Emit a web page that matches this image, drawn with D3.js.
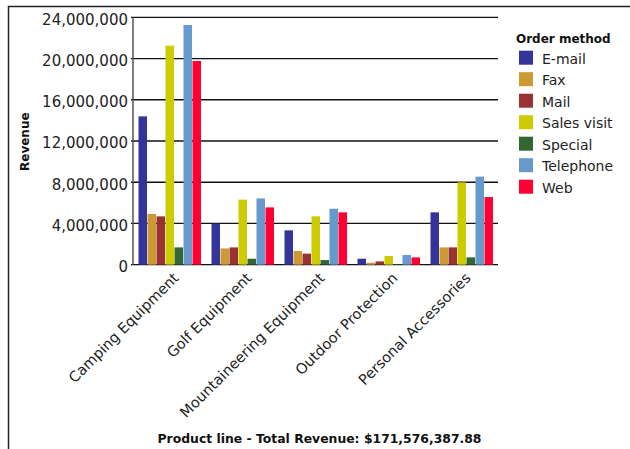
<!DOCTYPE html>
<html>
<head>
<meta charset="utf-8">
<script src="https://cdn.jsdelivr.net/npm/d3@7"></script>
<style>
  html, body { margin: 0; padding: 0; background: #fff; }
  svg { display: block; }
</style>
</head>
<body>
<svg id="chart" width="630" height="449"></svg>
<script>
// Revenue by product line, split by order method
const productLines = ["Camping Equipment", "Golf Equipment", "Mountaineering Equipment", "Outdoor Protection", "Personal Accessories"];
const orderMethods = ["E-mail", "Fax", "Mail", "Sales visit", "Special", "Telephone", "Web"];
const methodColors = ["#333399", "#CC9933", "#993333", "#CCCC00", "#336633", "#6699CC", "#FF0033"];

// one array per order method, values in product-line order
const emailRevenue      = [14390000, 3980000, 3330000, 580000, 5080000];
const faxRevenue        = [4920000, 1580000, 1330000, 190000, 1680000];
const mailRevenue       = [4690000, 1680000, 1070000, 320000, 1680000];
const salesVisitRevenue = [21250000, 6310000, 4690000, 840000, 7990000];
const specialRevenue    = [1680000, 580000, 450000, 60000, 710000];
const telephoneRevenue  = [23250000, 6430000, 5430000, 940000, 8540000];
const webRevenue        = [19760000, 5560000, 5080000, 710000, 6560000];

const yTicks = [0, 4000000, 8000000, 12000000, 16000000, 20000000, 24000000];
const totalRevenueLabel = "Product line - Total Revenue: $171,576,387.88";

const seriesValues = [emailRevenue, faxRevenue, mailRevenue, salesVisitRevenue, specialRevenue, telephoneRevenue, webRevenue];
const rows = productLines.map((p, i) => ({
  line: p,
  values: orderMethods.map((m, j) => ({ method: m, value: seriesValues[j][i] }))
}));

const svg = d3.select("#chart");
const plot = { left: 133, right: 498, top: 17.3, bottom: 264.7 };

// outer frame (top and left edges)
svg.append("path")
  .attr("d", "M8.5,449 L8.5,6.5 L630,6.5")
  .attr("fill", "none")
  .attr("stroke", "#222")
  .attr("stroke-width", 1.5);

const x0 = d3.scaleBand().domain(productLines).range([plot.left, plot.right]).padding(0);
const x1 = d3.scaleBand().domain(orderMethods).range([5, x0.bandwidth() - 5]).padding(0);
const y = d3.scaleLinear().domain([0, 24000000]).range([plot.bottom, plot.top]);
const color = d3.scaleOrdinal().domain(orderMethods).range(methodColors);

// horizontal gridlines
svg.append("g")
  .selectAll("line")
  .data(yTicks)
  .join("line")
  .attr("x1", plot.left - 2)
  .attr("x2", plot.right)
  .attr("y1", d => y(d))
  .attr("y2", d => y(d))
  .attr("stroke", "#111")
  .attr("stroke-width", 1.3);

// bars
svg.append("g")
  .selectAll("g")
  .data(rows)
  .join("g")
  .attr("transform", d => `translate(${x0(d.line)},0)`)
  .selectAll("rect")
  .data(d => d.values)
  .join("rect")
  .attr("x", d => x1(d.method) + 0.5)
  .attr("width", x1.bandwidth() - 0.5)
  .attr("y", d => y(d.value))
  .attr("height", d => y(0) - y(d.value))
  .attr("fill", d => color(d.method));

// left axis line
svg.append("line")
  .attr("x1", plot.left).attr("x2", plot.left)
  .attr("y1", plot.top).attr("y2", plot.bottom)
  .attr("stroke", "#555")
  .attr("stroke-width", 1.5);

// y tick labels
const fmt = d3.format(",");
svg.append("g")
  .selectAll("text")
  .data(yTicks)
  .join("text")
  .attr("x", 128)
  .attr("y", d => y(d) + 7.4)
  .attr("text-anchor", "end")
  .attr("font-family", "DejaVu Sans, sans-serif")
  .attr("font-size", 15)
  .attr("fill", "#222")
  .text(d => fmt(d));

// y axis title
svg.append("text")
  .attr("transform", "translate(29,141.7) rotate(-90)")
  .attr("text-anchor", "middle")
  .attr("font-family", "DejaVu Sans, sans-serif")
  .attr("font-weight", "bold")
  .attr("font-size", 12)
  .attr("fill", "#111")
  .text("Revenue");

// x category labels, rotated
svg.append("g")
  .selectAll("text")
  .data(productLines)
  .join("text")
  .attr("transform", d => `translate(${x0(d) + x0.bandwidth() / 2 + 10},279) rotate(-45)`)
  .attr("text-anchor", "end")
  .attr("font-family", "DejaVu Sans, sans-serif")
  .attr("font-size", 14.5)
  .attr("fill", "#222")
  .text(d => d);

// bottom title
svg.append("text")
  .attr("x", 319.5)
  .attr("y", 443)
  .attr("text-anchor", "middle")
  .attr("font-family", "DejaVu Sans, sans-serif")
  .attr("font-weight", "bold")
  .attr("font-size", 12.4)
  .attr("fill", "#111")
  .text(totalRevenueLabel);

// legend
const legend = svg.append("g");
legend.append("text")
  .attr("x", 516)
  .attr("y", 42.5)
  .attr("font-family", "DejaVu Sans, sans-serif")
  .attr("font-weight", "bold")
  .attr("font-size", 12)
  .attr("fill", "#111")
  .text("Order method");

const item = legend.selectAll("g.item")
  .data(orderMethods)
  .join("g")
  .attr("class", "item")
  .attr("transform", (d, i) => `translate(519,${50.7 + i * 21.5})`);
item.append("rect")
  .attr("width", 14).attr("height", 14)
  .attr("fill", d => color(d));
item.append("text")
  .attr("x", 23)
  .attr("y", 13)
  .attr("font-family", "DejaVu Sans, sans-serif")
  .attr("font-size", 14)
  .attr("fill", "#222")
  .text(d => d);
</script>
</body>
</html>
